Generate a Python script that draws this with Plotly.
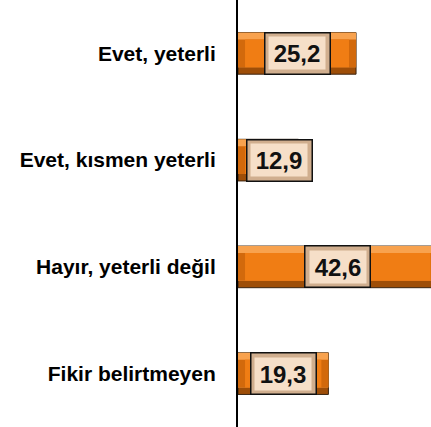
import plotly.graph_objects as go

categories = ["Evet, yeterli", "Evet, kısmen yeterli", "Hayır, yeterli değil", "Fikir belirtmeyen"]
values = [25.2, 12.9, 42.6, 19.3]
value_labels = ["25,2", "12,9", "42,6", "19,3"]

ypos = list(range(len(categories)))
W = 0.39          # bar thickness in category units
EDGE = 7 / 42     # bevel share of the bar thickness
END = 1.5         # bevel length at bar ends (x units)

fig = go.Figure()

# bevelled bar: dark bottom, light top, mid-tone ends, bright face
fig.add_trace(go.Bar(orientation="h", x=values, y=ypos, width=W, offset=-W / 2,
                     marker=dict(color="#9E4E08", line=dict(color="#3a2410", width=1)),
                     hoverinfo="skip"))
fig.add_trace(go.Bar(orientation="h", x=values, y=ypos, width=W * (1 - EDGE), offset=-W / 2,
                     marker=dict(color="#F8A24E", line=dict(width=0)), hoverinfo="skip"))
fig.add_trace(go.Bar(orientation="h", x=values, y=ypos, width=W * (1 - 2 * EDGE),
                     offset=-W / 2 + W * EDGE,
                     marker=dict(color="#D2690C", line=dict(width=0)), hoverinfo="skip"))
fig.add_trace(go.Bar(orientation="h", x=[v - 2 * END for v in values], base=[END] * len(values),
                     y=ypos, width=W * (1 - 2 * EDGE), offset=-W / 2 + W * EDGE,
                     marker=dict(color="#F07D14", line=dict(width=0)), hoverinfo="skip"))

# value boxes, kept clear of the axis line for short bars
label_x = [max(v / 2, 8.8) for v in values]
for lx, y, txt in zip(label_x, ypos, value_labels):
    fig.add_annotation(x=lx, y=y, xref="x", yref="y", text="", showarrow=False,
                       width=64, height=40, bgcolor="#D0AE8E",
                       bordercolor="#111111", borderwidth=1.5, borderpad=0)
    fig.add_annotation(x=lx, y=y, xref="x", yref="y", text=f"<b>{txt}</b>", showarrow=False,
                       width=56, height=32, bgcolor="#F6DFC8", borderpad=0,
                       font=dict(family="Liberation Sans, Arial", size=24, color="#111111"))

fig.update_layout(
    width=431, height=427,
    margin=dict(l=238, r=0, t=0, b=0),
    paper_bgcolor="white", plot_bgcolor="white",
    barmode="overlay", showlegend=False,
    xaxis=dict(range=[0, 41.2], visible=False, fixedrange=True),
    yaxis=dict(range=[3.5, -0.5], tickvals=ypos, ticktext=categories,
               showgrid=False, zeroline=False, showline=True,
               linecolor="#000000", linewidth=2, ticks="",
               ticklabelstandoff=16,
               tickfont=dict(family="Liberation Sans, Arial", size=21, color="#000000")),
)
fig.update_yaxes(tickfont_weight="bold")

fig.write_html("out.html")
